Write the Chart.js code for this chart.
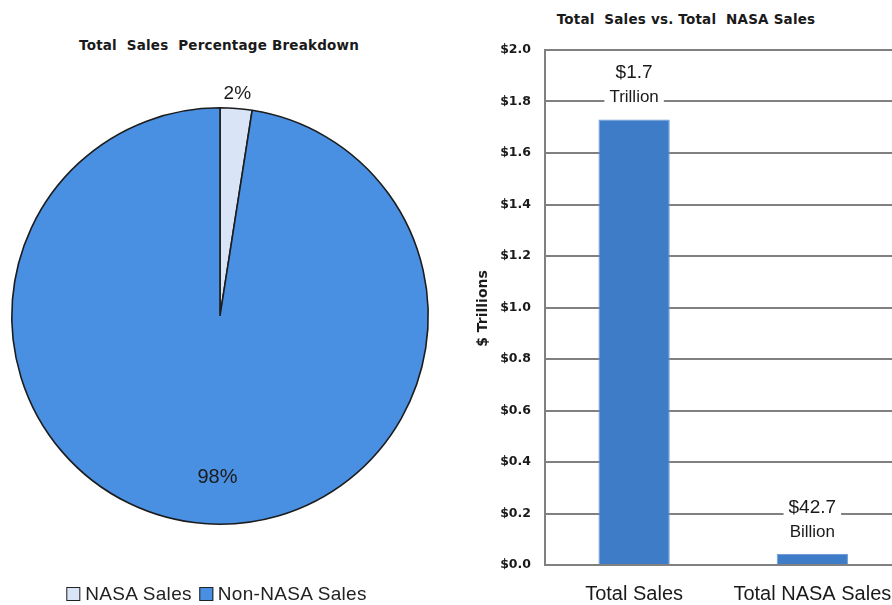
<!DOCTYPE html>
<html>
<head>
<meta charset="utf-8">
<script src="https://cdn.jsdelivr.net/npm/chart.js@4.4.1/dist/chart.umd.min.js"></script>
<style>
html,body{margin:0;padding:0;background:#fff;width:892px;height:605px;overflow:hidden;position:relative;}
#pieWrap{position:absolute;left:0;top:0;width:450px;height:605px;}
#barWrap{position:absolute;left:450px;top:0;width:460px;height:605px;}
.title{position:absolute;font-family:"DejaVu Sans",sans-serif;font-weight:bold;font-size:13.5px;letter-spacing:0.2px;color:#1a1a1a;white-space:pre;transform:translateX(-50%);line-height:16px;}
#legend{position:absolute;left:220px;top:584px;transform:translateX(-50%);font-family:"Liberation Sans",sans-serif;font-size:19px;letter-spacing:0.3px;color:#222;white-space:nowrap;display:flex;align-items:center;line-height:20px;}
.sw{display:inline-block;width:12px;height:12px;border:1.5px solid #222;margin-right:5px;}
.li{display:flex;align-items:center;margin-right:7px;}
</style>
</head>
<body>
<div class="title" style="left:219px;top:37px;">Total  Sales  Percentage Breakdown</div>
<div class="title" style="left:686px;top:11px;">Total  Sales vs. Total  NASA Sales</div>
<div id="pieWrap"><canvas id="pie" width="450" height="605"></canvas></div>
<div id="barWrap"><canvas id="bar" width="460" height="605"></canvas></div>
<div id="legend"></div>
<script>
// ---- data ----
const pieLabels = ['NASA Sales', 'Non-NASA Sales'];
const pieValues = [42.7, 1687.3];           // $ billions
const pieColors = ['#D9E5F6', '#4A90E2'];
const pieLabelText = ['2%', '98%'];

const barCategories = ['Total Sales', 'Total NASA Sales'];
const barValues = [1.73, 0.0427];            // $ trillions
const barLabelLine1 = ['$1.7', '$42.7'];
const barLabelLine2 = ['Trillion', 'Billion'];
const yTickMax = 2.0;
const yTickStep = 0.2;

Chart.defaults.animation = false;
Chart.defaults.responsive = false;

// legend
const lg = document.getElementById('legend');
pieLabels.forEach((l, i) => {
  const d = document.createElement('span');
  d.className = 'li';
  d.innerHTML = '<span class="sw" style="background:' + pieColors[i] + '"></span>' + l;
  lg.appendChild(d);
});

const pieLabelPlugin = {
  id: 'pieLabels',
  afterDatasetsDraw(chart) {
    const ctx = chart.ctx;
    const meta = chart.getDatasetMeta(0);
    ctx.save();
    ctx.fillStyle = '#1a1a1a';
    ctx.textAlign = 'center';
    ctx.textBaseline = 'middle';
    meta.data.forEach((arc, i) => {
      ctx.font = (i === 0 ? '19px' : '20px') + ' "Liberation Sans", sans-serif';
      const mid = (arc.startAngle + arc.endAngle) / 2;
      const r = i === 0 ? arc.outerRadius + 15 : arc.outerRadius * 0.78;
      const x = arc.x + Math.cos(mid) * r + (i === 1 ? 10 : 0);
      const y = arc.y + Math.sin(mid) * r;
      ctx.fillText(pieLabelText[i], x, y);
    });
    ctx.restore();
  }
};

new Chart(document.getElementById('pie'), {
  type: 'pie',
  data: {
    labels: pieLabels,
    datasets: [{
      data: pieValues,
      backgroundColor: pieColors,
      borderColor: '#1c1c1c',
      borderWidth: 1.6
    }]
  },
  options: {
    layout: { padding: { left: 11, right: 21, top: 107, bottom: 80 } },
    plugins: { legend: { display: false }, title: { display: false }, tooltip: { enabled: false } }
  },
  plugins: [pieLabelPlugin]
});

const barLabelPlugin = {
  id: 'barLabels',
  afterDatasetsDraw(chart) {
    const ctx = chart.ctx;
    const meta = chart.getDatasetMeta(0);
    ctx.save();
    ctx.textAlign = 'center';
    ctx.textBaseline = 'middle';
    const f1 = '19px "Liberation Sans", sans-serif';
    const f2 = '17px "Liberation Sans", sans-serif';
    meta.data.forEach((bar, i) => {
      const x = bar.x;
      const y1 = bar.y - 46.5;
      const y2 = bar.y - 22;
      ctx.font = f1;
      const w1 = ctx.measureText(barLabelLine1[i]).width;
      ctx.font = f2;
      const w2 = ctx.measureText(barLabelLine2[i]).width;
      const w = Math.max(w1, w2) + 10;
      ctx.fillStyle = '#ffffff';
      ctx.fillRect(x - w / 2, y1 - 12, w, (y2 - y1) + 23);
      ctx.fillStyle = '#1a1a1a';
      ctx.font = f1;
      ctx.fillText(barLabelLine1[i], x, y1);
      ctx.font = f2;
      ctx.fillText(barLabelLine2[i], x, y2);
    });
    // y axis title
    const ya = chart.scales.y;
    ctx.save();
    ctx.translate(33, (ya.top + ya.bottom) / 2 + 1);
    ctx.rotate(-Math.PI / 2);
    ctx.font = 'bold 14px "DejaVu Sans", sans-serif';
    ctx.fillStyle = '#1a1a1a';
    ctx.fillText('$ Trillions', 0, 0);
    ctx.restore();
    ctx.restore();
  }
};

new Chart(document.getElementById('bar'), {
  type: 'bar',
  data: {
    labels: barCategories,
    datasets: [{
      data: barValues,
      backgroundColor: '#3F7CC8',
      borderColor: '#6F9BD6',
      borderWidth: 1,
      barPercentage: 0.40,
      categoryPercentage: 1.0
    }]
  },
  options: {
    layout: { padding: { left: 0, right: 7, top: 50, bottom: 0 } },
    plugins: { legend: { display: false }, title: { display: false }, tooltip: { enabled: false } },
    scales: {
      x: {
        afterFit(s) { s.height = 40; },
        grid: { display: false, drawTicks: false },
        border: { color: '#808080', width: 2 },
        ticks: { color: '#1a1a1a', padding: 17, autoSkip: false, maxRotation: 0, minRotation: 0,
                 font: { family: '"Liberation Sans", sans-serif', size: 20 } }
      },
      y: {
        min: 0, max: yTickMax,
        afterFit(s) { s.width = 95; },
        grid: { color: '#808080', lineWidth: 2, drawTicks: false },
        border: { color: '#808080', width: 2 },
        ticks: {
          stepSize: yTickStep,
          padding: 14,
          color: '#1a1a1a',
          font: { family: '"DejaVu Sans", sans-serif', size: 12.5, weight: 'bold' },
          callback: (v) => '$' + Number(v).toFixed(1)
        }
      }
    }
  },
  plugins: [barLabelPlugin]
});
</script>
</body>
</html>
